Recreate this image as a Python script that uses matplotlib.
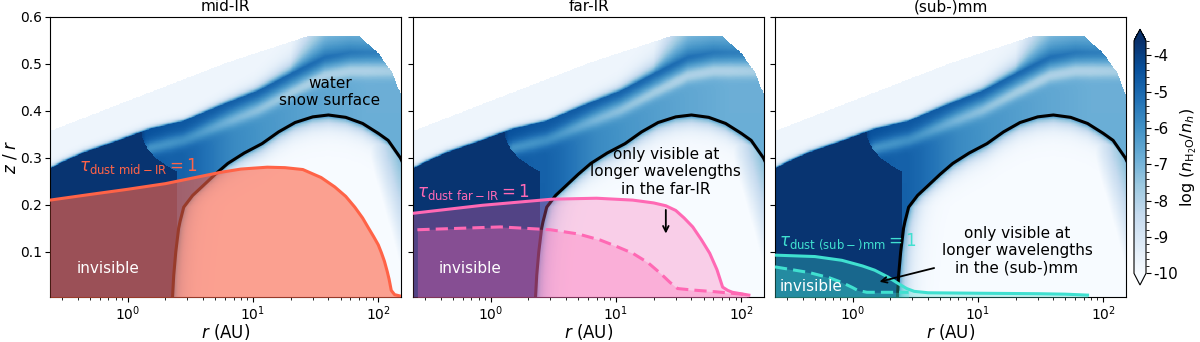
import matplotlib
matplotlib.use("Agg")
import matplotlib.pyplot as plt
import numpy as np

plt.rcParams["axes.unicode_minus"] = False

# ---- curves (r in AU, z/r) ----
# water snow surface (black line)
snow_r = [2.28, 2.33, 2.42, 2.55, 2.62, 2.68, 2.8, 3.3, 3.9, 5.0, 6.3, 8.5, 11.8, 16, 21.7, 30, 40, 55, 75, 100, 120, 150, 170]
snow_h = [0.004, 0.05, 0.10, 0.15, 0.165, 0.175, 0.195, 0.22, 0.238, 0.265, 0.288, 0.31, 0.33, 0.355, 0.375, 0.387, 0.391, 0.386, 0.373, 0.352, 0.337, 0.30, 0.27]

# upper edge of the water layer
edge_r = [0.2, 0.24, 0.3, 0.44, 0.82, 1.5, 2.8, 5.9, 11, 20.5, 37.6, 60, 100, 170]
edge_h = [0.27, 0.276, 0.29, 0.31, 0.335, 0.361, 0.378, 0.414, 0.442, 0.48, 0.515, 0.525, 0.525, 0.525]

# top of the model grid
top_r = [0.2, 0.24, 6.0, 27.5, 70, 100, 130, 150, 170]
top_h = [0.35, 0.357, 0.501, 0.559, 0.559, 0.523, 0.48, 0.437, 0.40]

# log abundance levels
streak_r = [0.2, 1.2, 1.4, 2.0, 5.0, 30, 80, 170]
streak_v = [-3.7, -3.7, -4.4, -4.5, -4.7, -5.1, -5.5, -5.6]
base_r = [0.2, 1.2, 1.4, 2.2, 2.7, 3.5, 7, 12, 30, 80, 170]
base_v = [-3.7, -3.7, -4.6, -4.8, -4.8, -5.0, -5.8, -6.1, -6.5, -6.8, -6.8]
dip_r = [0.2, 1.2, 1.5, 3.0, 6.0, 30, 170]
dip_v = [0.0, 0.0, 1.4, 1.1, 1.2, 1.4, 0.9]
fade_r = [0.2, 3.0, 10, 20, 40, 170]
fade_px = [2.0, 2.0, 4.0, 8.0, 40, 55]
navy_r = [0.2, 1.2, 1.3, 1.45, 1.7, 2.0, 2.5]
navy_h = [1.0, 1.0, 0.345, 0.318, 0.298, 0.285, 0.27]
right_r = [175, 140, 110, 85, 70]
right_h = [0.0, 0.1, 0.2, 0.3, 0.4]

# tau_dust = 1 surfaces
mid_r = [0.24, 0.5, 1, 2, 5.5, 8, 13, 18, 25, 35, 45, 55, 65, 75, 83, 92, 100, 106, 112, 118, 122, 127, 135, 150]
mid_h = [0.21, 0.222, 0.233, 0.245, 0.269, 0.276, 0.28, 0.279, 0.275, 0.258, 0.238, 0.218, 0.195, 0.172, 0.152, 0.132, 0.115, 0.098, 0.08, 0.058, 0.042, 0.018, 0.009, 0.006]
far_r = [0.24, 0.86, 3.1, 7, 13.6, 20, 25, 30, 35, 41, 48, 56, 64, 71, 78, 85, 115]
far_h = [0.182, 0.199, 0.212, 0.214, 0.21, 0.204, 0.198, 0.188, 0.172, 0.153, 0.126, 0.097, 0.062, 0.025, 0.018, 0.014, 0.008]
far_long_r = [0.26, 1.2, 3, 5, 7.5, 10, 13.6, 18, 22.7, 27, 31, 40, 63, 110]
far_long_h = [0.147, 0.153, 0.147, 0.138, 0.125, 0.112, 0.097, 0.077, 0.054, 0.035, 0.022, 0.019, 0.015, 0.009]
sub_r = [0.24, 0.5, 0.82, 1.2, 1.5, 1.9, 2.3, 2.7, 3.1, 4, 10, 30, 50, 75]
sub_h = [0.093, 0.09, 0.082, 0.07, 0.061, 0.047, 0.033, 0.022, 0.016, 0.013, 0.012, 0.011, 0.01, 0.008]
sub_long_r = [0.24, 0.45, 0.65, 0.82, 1.0, 1.1, 1.3, 2.0, 2.8]
sub_long_h = [0.068, 0.056, 0.045, 0.035, 0.024, 0.018, 0.014, 0.014, 0.014]

titles = ["mid-IR", "far-IR", "(sub-)mm"]
cbar_ticks = [-4, -5, -6, -7, -8, -9, -10]

PX_H, PX_DEC = 470.0, 125.0   # pixels per unit z/r and per decade in r

# ---- build the abundance map from the curves ----
lg = np.linspace(np.log10(0.2), np.log10(170), 700)
hg = np.linspace(0.0, 0.6, 500)
LX, H = np.meshgrid(lg, hg)


def at(r, v):
    return np.interp(LX, np.log10(r), v)


U = at(edge_r, edge_h)
du = (U - H) * PX_H
streak = at(streak_r, streak_v)
base = at(base_r, base_v)
dip = at(dip_r, dip_v)
fade = at(fade_r, fade_px)

above = -9.7 + (streak + 9.7) * np.exp(np.minimum(du, 0) / fade)
below = (base + (streak - base) * np.exp(-(np.maximum(du, 0) / 9) ** 2)
         - dip * np.exp(-((du - 19) / 7) ** 2))
below = np.where((LX < np.log10(2.5)) & (H < at(navy_r, navy_h)), -3.7, below)
val = np.where(du < 0, above, below)

S = at(snow_r, snow_h)
k = int(np.argmax(snow_h))
wall = np.interp(H, snow_h[:k + 1], np.log10(snow_r[:k + 1]))
inside = (LX > np.log10(snow_r[0])) & (H < S)
d = np.maximum(np.minimum((S - H) * PX_H, (LX - wall) * PX_DEC), 0)
dome = -10 + 4.2 * np.exp(-d / 8)
rgt = np.interp(H, right_h, np.log10(right_r))
dome = np.maximum(dome, -10 + 2.8 * np.clip((LX - rgt) * PX_DEC / 30, 0, 1))
val = np.where(inside, dome, val)
val = np.where(H > at(top_r, top_h), np.nan, val)
val = np.ma.masked_invalid(val)

# ---- figure ----
fig = plt.figure(figsize=(12, 3.42), dpi=100)
lefts = [0.0417, 0.3442, 0.6458]
axes = [fig.add_axes([l, 0.1316, 0.2925, 0.8196]) for l in lefts]
cax = fig.add_axes([0.9450, 0.1667, 0.0100, 0.748])

tau = [
    ("tomato", mid_r, mid_h, None, None, 0.6, r"$\tau_{\rm dust\ mid-IR} = 1$", (0.41, 0.262)),
    ("hotpink", far_r, far_h, far_long_r, far_long_h, 0.3, r"$\tau_{\rm dust\ far-IR} = 1$", (0.26, 0.205)),
    ("turquoise", sub_r, sub_h, sub_long_r, sub_long_h, 0.3, r"$\tau_{\rm dust\ (sub-)mm} = 1$", (0.26, 0.1)),
]

for i, ax in enumerate(axes):
    mesh = ax.pcolormesh(10 ** lg, hg, val, cmap="Blues", vmin=-10, vmax=-3.6,
                         shading="auto", rasterized=True)
    ax.plot(snow_r, snow_h, color="k", lw=2.2, zorder=2)
    col, tr, th, lr_, lh, alpha, lab, pos = tau[i]
    ax.fill_between(tr, 0, th, color=col, alpha=alpha, lw=0, zorder=3)
    ax.plot(tr, th, color=col, lw=2.2, zorder=4)
    if lr_ is not None:
        ax.fill_between(lr_, 0, lh, color=col, alpha=alpha, lw=0, zorder=3)
        ax.plot(lr_, lh, color=col, lw=2.2, ls=(0, (4, 2)), zorder=4)
    ax.text(pos[0], pos[1], lab, color=col, fontsize=12, va="bottom", ha="left", zorder=5)

    ax.set_xscale("log")
    ax.set_xlim(0.24, 152)
    ax.set_ylim(0.004, 0.6)
    ax.set_yticks([0.1, 0.2, 0.3, 0.4, 0.5, 0.6])
    ax.set_title(titles[i], fontsize=11, pad=4)
    ax.set_xlabel(r"$r$ (AU)", fontsize=12, labelpad=-1)
    ax.tick_params(labelsize=10, pad=2)
    if i == 0:
        ax.set_ylabel(r"$z$ / $r$", fontsize=12, labelpad=1)
    else:
        ax.set_yticklabels([])

axes[0].text(41, 0.44, "water\nsnow surface", fontsize=11, ha="center", va="center")
axes[0].text(0.7, 0.065, "invisible", fontsize=11, color="white", ha="center", va="center", zorder=6)
axes[1].text(0.69, 0.065, "invisible", fontsize=11, color="white", ha="center", va="center", zorder=6)
axes[2].text(0.47, 0.027, "invisible", fontsize=11, color="white", ha="center", va="center", zorder=6)

axes[1].text(25, 0.27, "only visible at\nlonger wavelengths\nin the far-IR", fontsize=11,
             ha="center", va="center", zorder=6)
axes[1].annotate("", xy=(25, 0.133), xytext=(25, 0.195),
                 arrowprops=dict(arrowstyle="->", color="k", lw=1.3), zorder=6)
axes[2].text(20.5, 0.103, "only visible at\nlonger wavelengths\nin the (sub-)mm", fontsize=11,
             ha="center", va="center", zorder=6)
axes[2].annotate("", xy=(1.56, 0.035), xytext=(4.7, 0.067),
                 arrowprops=dict(arrowstyle="->", color="k", lw=1.3), zorder=6)

cb = fig.colorbar(mesh, cax=cax, extend="both", ticks=cbar_ticks)
cb.set_ticklabels([str(t) for t in cbar_ticks])
cb.minorticks_on()
cb.ax.tick_params(labelsize=11, pad=2)
cb.set_label(r"log ($n_{\rm H_2O}/n_h$)", fontsize=11.5, labelpad=0)

fig.savefig("out.png", dpi=100)
